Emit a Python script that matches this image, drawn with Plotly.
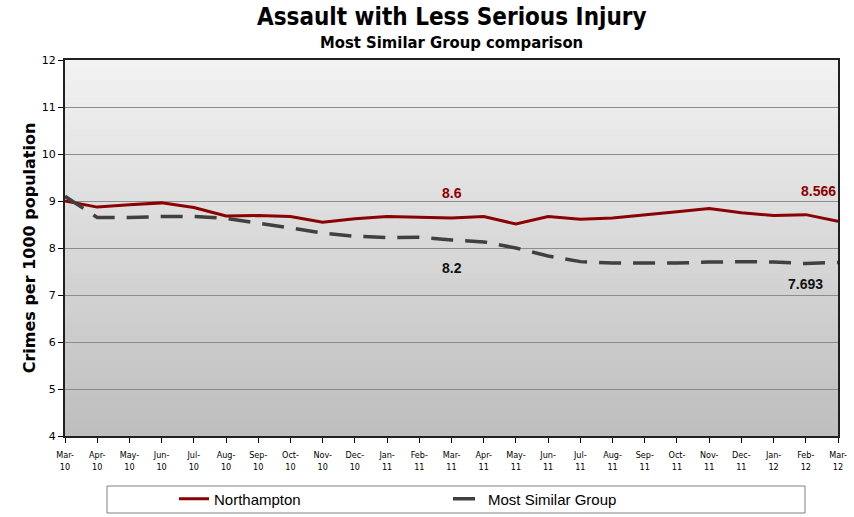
import plotly.graph_objects as go

months = ["Mar-10", "Apr-10", "May-10", "Jun-10", "Jul-10", "Aug-10", "Sep-10", "Oct-10",
          "Nov-10", "Dec-10", "Jan-11", "Feb-11", "Mar-11", "Apr-11", "May-11", "Jun-11",
          "Jul-11", "Aug-11", "Sep-11", "Oct-11", "Nov-11", "Dec-11", "Jan-12", "Feb-12", "Mar-12"]
tick_labels = [m.replace("-", "-<br>") for m in months]

northampton = [9.00, 8.87, 8.92, 8.96, 8.86, 8.68, 8.69, 8.67, 8.55, 8.62, 8.67, 8.65, 8.64,
               8.67, 8.51, 8.67, 8.61, 8.64, 8.70, 8.77, 8.84, 8.75, 8.69, 8.71, 8.566]
msg = [9.10, 8.65, 8.65, 8.67, 8.67, 8.63, 8.53, 8.42, 8.32, 8.25, 8.22, 8.23, 8.17,
       8.13, 8.00, 7.83, 7.71, 7.68, 7.68, 7.68, 7.70, 7.71, 7.70, 7.67, 7.693]

x = list(range(len(months)))

fig = go.Figure()
fig.add_trace(go.Scatter(x=x, y=northampton, mode="lines", name="Northampton",
                         line=dict(color="#8b0000", width=3)))
fig.add_trace(go.Scatter(x=x, y=msg, mode="lines", name="Most Similar Group",
                         line=dict(color="#404040", width=3.5, dash="22px,12px")))

# gradient background of plot area
shapes = []
n = 60
top = (242, 242, 242)
bot = (190, 190, 190)
for i in range(n):
    t = i / (n - 1)
    c = tuple(round(top[k] + (bot[k] - top[k]) * t) for k in range(3))
    shapes.append(dict(type="rect", xref="x domain", yref="y domain",
                       x0=0, x1=1, y0=max(0, 1 - (i + 1) / n - 0.004), y1=1 - i / n,
                       fillcolor="rgb(%d,%d,%d)" % c, line=dict(width=0), layer="below"))
# legend box
shapes.append(dict(type="rect", xref="paper", yref="paper",
                   x0=(107 - 65) / 773, x1=(805 - 65) / 773,
                   y0=-(513 - 436) / 376, y1=-(486 - 436) / 376,
                   line=dict(color="#808080", width=1), fillcolor="white"))

lab_font = "Arial, Liberation Sans, sans-serif"
title_font = "Tahoma, DejaVu Sans Condensed, sans-serif"
annotations = [
    dict(x=12, y=northampton[12], text="<b>8.6</b>", showarrow=False, yshift=25,
         font=dict(color="#8b0000", size=14, family=lab_font)),
    dict(x=12, y=msg[12], text="<b>8.2</b>", showarrow=False, yshift=-28,
         font=dict(color="#111111", size=14, family=lab_font)),
    dict(x=24, y=northampton[24], text="<b>8.566</b>", showarrow=False, yshift=30, xshift=-20,
         font=dict(color="#8b0000", size=14, family=lab_font)),
    dict(x=24, y=msg[24], text="<b>7.693</b>", showarrow=False, yshift=-22, xshift=-33,
         font=dict(color="#111111", size=14, family=lab_font)),
    dict(x=0.5, y=1, xref="paper", yref="paper", yanchor="middle", yshift=43,
         text="<b>Assault with Less Serious Injury</b>", showarrow=False,
         font=dict(size=24, color="black", family=title_font)),
    dict(x=0.5, y=1, xref="paper", yref="paper", yanchor="middle", yshift=18,
         text="<b>Most Similar Group comparison</b>", showarrow=False,
         font=dict(size=16.5, color="black", family=title_font)),
]

fig.update_layout(
    width=854, height=517,
    margin=dict(l=65, r=16, t=60, b=81, autoexpand=False),
    paper_bgcolor="white", plot_bgcolor="rgba(0,0,0,0)",
    shapes=shapes, annotations=annotations,
    showlegend=True,
    legend=dict(orientation="h", x=(174 - 65) / 773, xanchor="left",
                y=-(499 - 436) / 376, yanchor="middle",
                bgcolor="rgba(0,0,0,0)", borderwidth=0,
                entrywidth=229, entrywidthmode="pixels", itemwidth=30,
                font=dict(family="Arial, Liberation Sans, sans-serif", size=15, color="black")),
    font=dict(family="Tahoma, DejaVu Sans, sans-serif", color="black"),
)
fig.update_xaxes(range=[0, 24], tickvals=x, ticktext=tick_labels, tickangle=0,
                 ticks="outside", ticklen=5, tickcolor="black", automargin=False,
                 ticklabelstandoff=4,
                 tickfont=dict(size=9, family="Tahoma, DejaVu Sans Condensed, sans-serif"),
                 showgrid=False, zeroline=False,
                 showline=True, linecolor="#202020", linewidth=2, mirror=True)
fig.update_yaxes(range=[4, 12], dtick=1, ticks="outside", ticklen=5, tickcolor="black",
                 automargin=False,
                 tickfont=dict(size=11, family="Tahoma, DejaVu Sans, sans-serif"),
                 showgrid=True, gridcolor="#8c8c8c", gridwidth=1, zeroline=False,
                 showline=True, linecolor="#202020", linewidth=2, mirror=True,
                 title=dict(text="<b>Crimes per 1000 population</b>", standoff=2,
                            font=dict(size=16, family="Tahoma, DejaVu Sans, sans-serif")))

fig.write_html("out.html", post_script="document.body.style.margin='0';",
               config={"displayModeBar": False})
